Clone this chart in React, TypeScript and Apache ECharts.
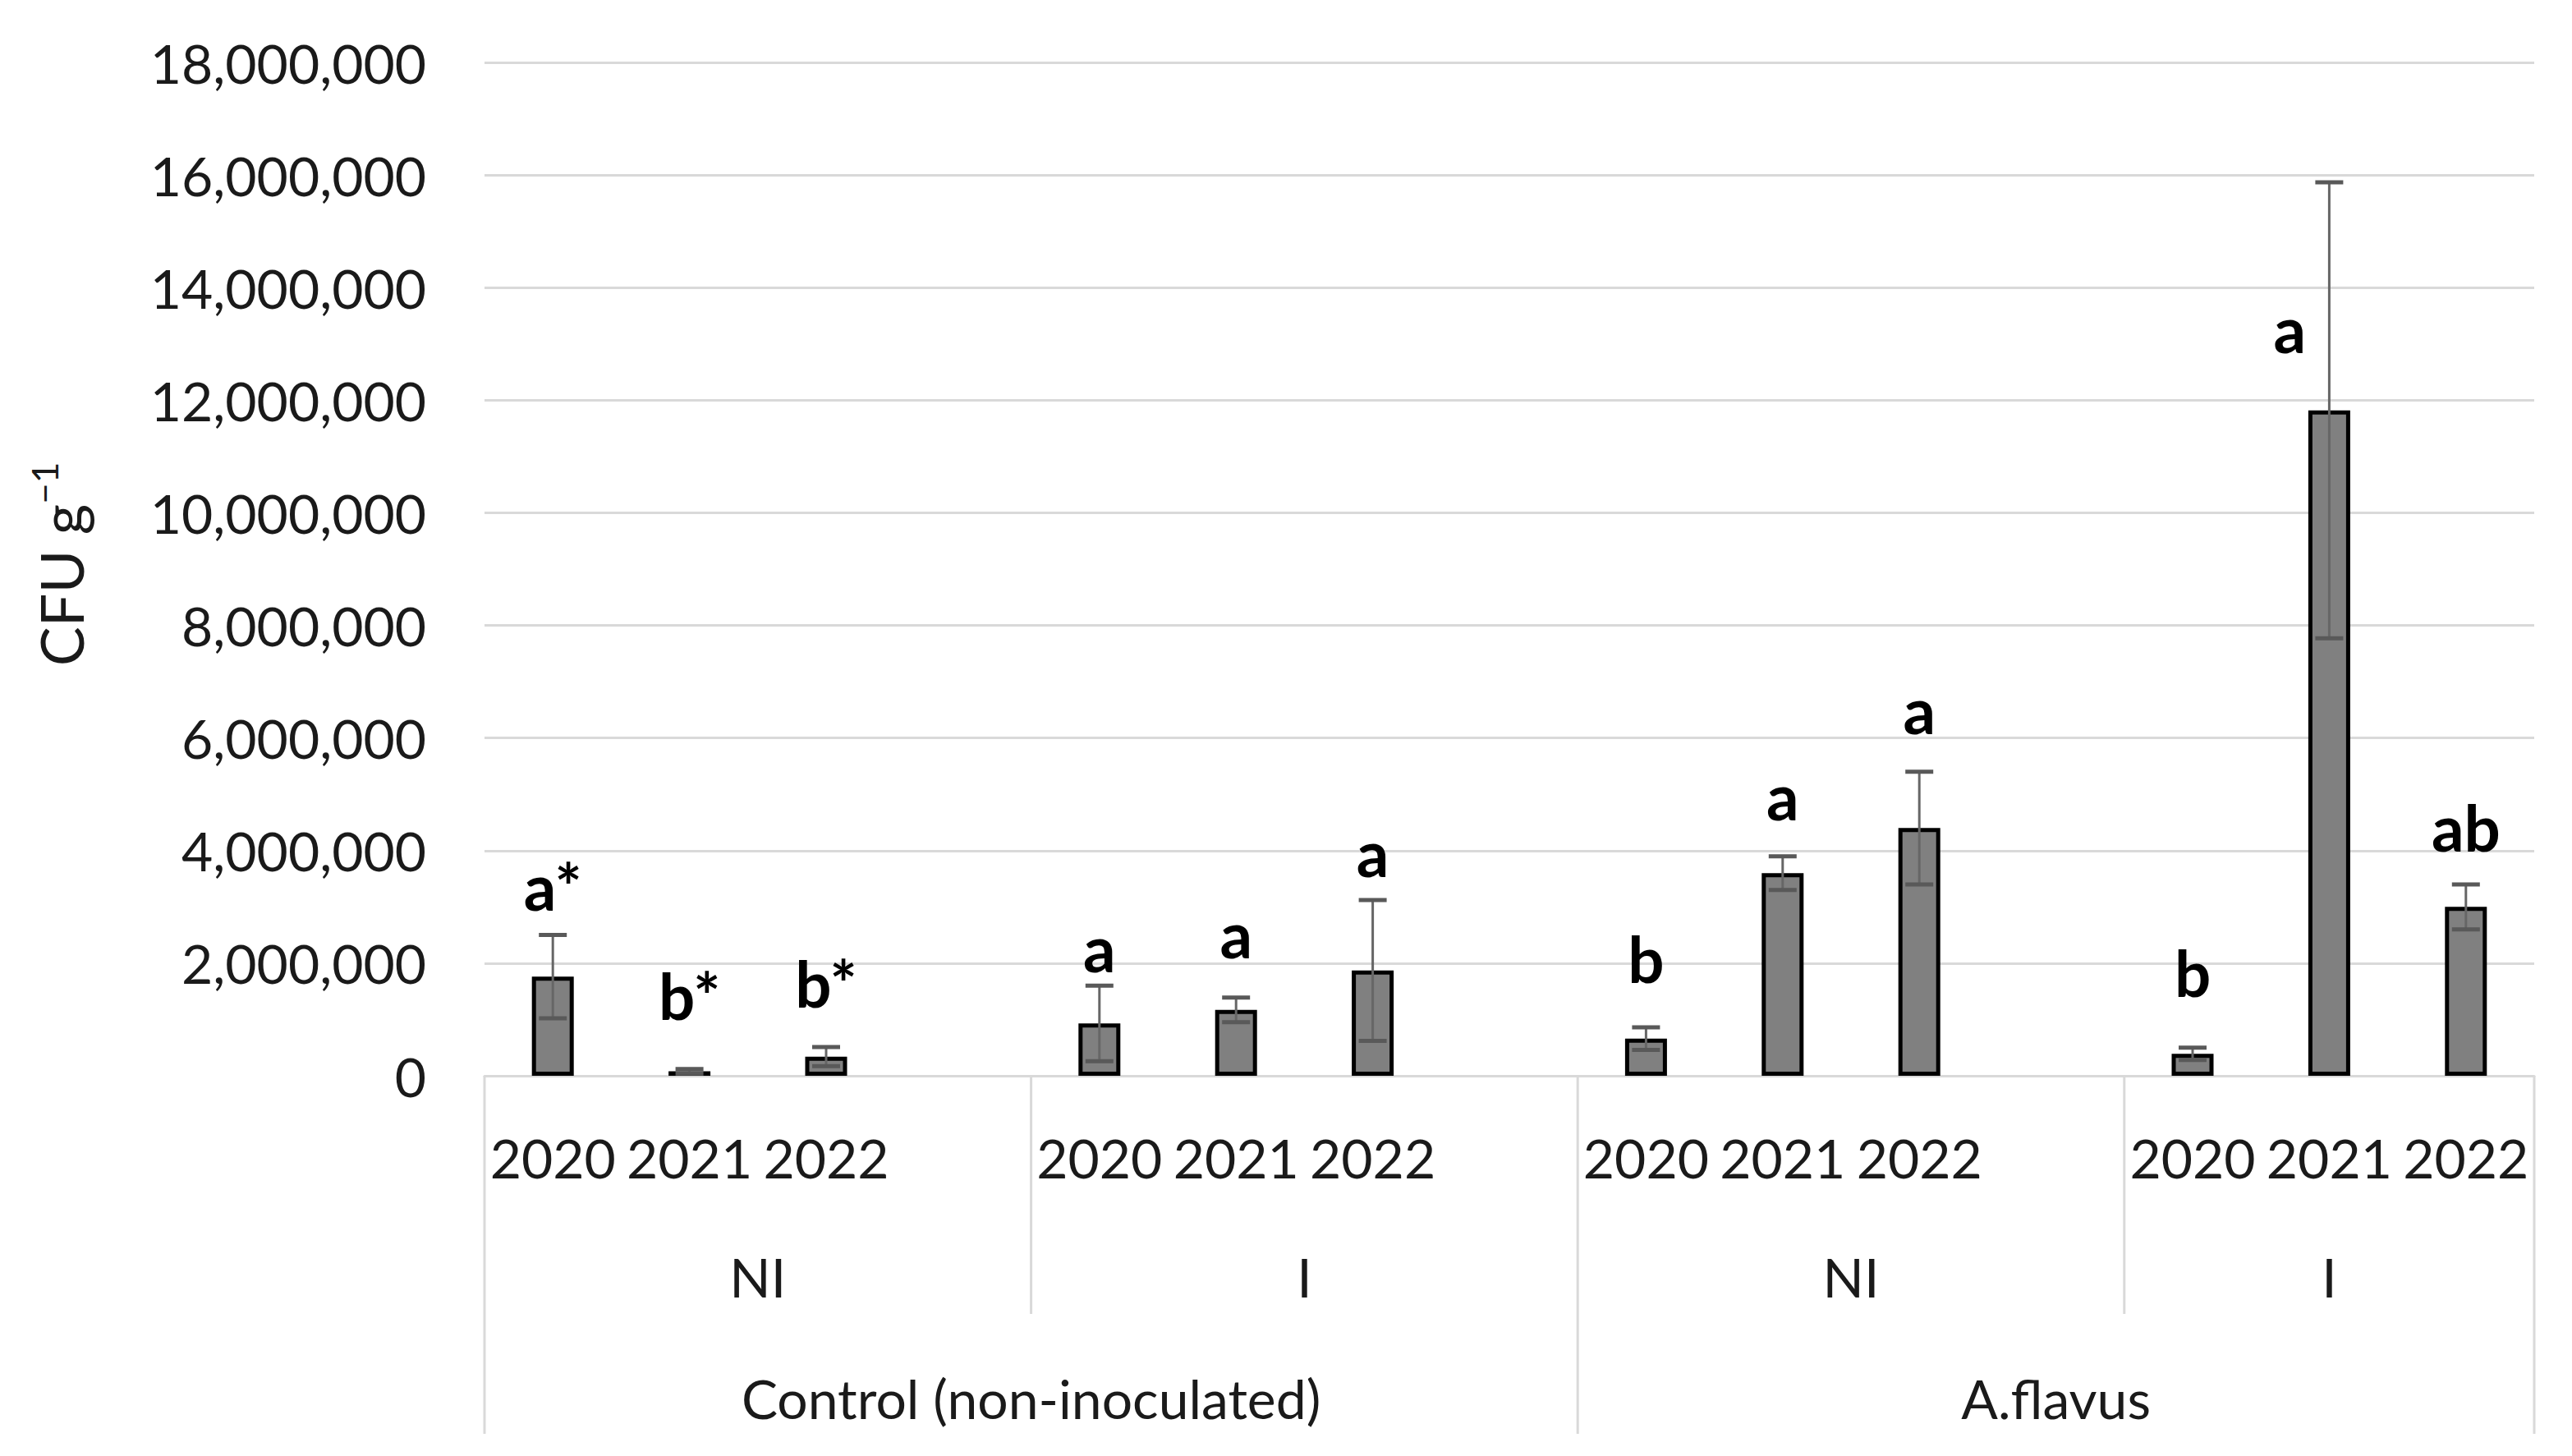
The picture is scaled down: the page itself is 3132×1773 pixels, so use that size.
import React, { useEffect, useRef } from 'react';
import * as echarts from 'echarts';

// ---- data ----
const TREATMENTS = ['Control (non-inoculated)', 'A.flavus'];
const INOCULATION = ['NI', 'I'];
const YEARS = ['2020', '2021', '2022'];
// order: Control-NI, Control-I, A.flavus-NI, A.flavus-I ; each 2020, 2021, 2022
const MEAN_CFU = [1760000, 80000, 340000, 930000, 1170000, 1870000, 660000, 3600000, 4400000, 390000, 11820000, 3000000];
const ERR_CFU = [740000, 40000, 170000, 670000, 220000, 1250000, 200000, 300000, 1000000, 110000, 4050000, 400000];
const LETTERS = ['a*', 'b*', 'b*', 'a', 'a', 'a', 'b', 'a', 'a', 'b', 'a', 'ab'];
const Y_MIN = 0;
const Y_MAX = 18000000;
const Y_STEP = 2000000;
const Y_TITLE = 'CFU g';
const Y_TITLE_SUP = '\u22121';

// ---- layout (pixels) ----
const LABEL_DY = [50, 80, 68, 36, 68, 48, 74, 64, 66, 82, -188, 60];
const LABEL_DX = [0, 0, 0, 0, 0, 0, 0, 0, 0, 0, -48, 0];
const FONT = 'Lato';
const TEXT_COLOR = '#1a1a1a';
const GRID_COLOR = '#d9d9d9';

type Span = { label: string; treat: number; start: number; end: number };

function build() {
  const categories: string[] = [];
  const barData: (number | string)[] = [];
  const errData: number[][] = [];
  const spans: Span[] = [];
  let k = 0;
  TREATMENTS.forEach((t, ti) => {
    INOCULATION.forEach((inoc, ii) => {
      const start = categories.length;
      YEARS.forEach((y) => {
        categories.push(t + '|' + inoc + '|' + y);
        barData.push(MEAN_CFU[k]);
        errData.push([categories.length - 1, MEAN_CFU[k], ERR_CFU[k], k]);
        k++;
      });
      const last = ti === TREATMENTS.length - 1 && ii === INOCULATION.length - 1;
      if (!last) {
        categories.push(t + '|' + inoc + '|gap');
        barData.push('-');
      }
      spans.push({ label: inoc, treat: ti, start, end: categories.length - 1 });
    });
  });
  return { categories, barData, errData, spans };
}

export default function App() {
  const ref = useRef<HTMLDivElement>(null);
  useEffect(() => {
    if (!ref.current) return;
    const chart = echarts.init(ref.current, undefined, { renderer: 'svg' });
    const { categories, barData, errData, spans } = build();

    chart.setOption({
      animation: false,
      backgroundColor: '#ffffff',
      grid: { left: 590, right: 46, top: 76, bottom: 463, containLabel: false },
      xAxis: {
        type: 'category',
        data: categories,
        axisLine: { show: true, lineStyle: { color: GRID_COLOR, width: 3 } },
        axisTick: { show: false },
        axisLabel: {
          interval: 0,
          margin: 66,
          fontFamily: FONT,
          fontSize: 66,
          color: TEXT_COLOR,
          formatter: (v: string) => {
            const y = v.split('|')[2];
            return y === 'gap' ? '' : y;
          },
        },
      },
      yAxis: {
        type: 'value',
        min: Y_MIN,
        max: Y_MAX,
        interval: Y_STEP,
        axisLine: { show: false },
        axisTick: { show: false },
        splitLine: { show: true, lineStyle: { color: GRID_COLOR, width: 3 } },
        axisLabel: {
          margin: 71,
          fontFamily: FONT,
          fontSize: 66,
          color: TEXT_COLOR,
          formatter: (v: number) => v.toLocaleString('en-US'),
        },
      },
      series: [
        {
          type: 'bar',
          data: barData,
          barWidth: 51,
          itemStyle: { color: '#808080', borderColor: '#000000', borderWidth: 5 },
          z: 2,
        },
        {
          type: 'custom',
          data: errData,
          encode: { x: 0, y: 1 },
          z: 3,
          renderItem: (params: any, api: any) => {
            const x = api.value(0);
            const m = api.value(1);
            const e = api.value(2);
            const k = api.value(3);
            const top = api.coord([x, m + e]);
            const bot = api.coord([x, m - e]);
            const cx = top[0];
            const ch = 17;
            return {
              type: 'group',
              children: [
                { type: 'line', shape: { x1: cx, y1: top[1], x2: cx, y2: bot[1] }, style: { stroke: '#666666', lineWidth: 3 } },
                { type: 'line', shape: { x1: cx - ch, y1: top[1], x2: cx + ch, y2: top[1] }, style: { stroke: '#595959', lineWidth: 5 } },
                { type: 'line', shape: { x1: cx - ch, y1: bot[1], x2: cx + ch, y2: bot[1] }, style: { stroke: '#595959', lineWidth: 5 } },
                {
                  type: 'text',
                  x: cx + LABEL_DX[k],
                  y: top[1] - LABEL_DY[k] - 10,
                  style: {
                    text: LETTERS[k],
                    fontFamily: FONT,
                    fontWeight: 'bold',
                    fontSize: 78,
                    fill: '#000000',
                    align: 'center',
                    verticalAlign: 'middle',
                  },
                },
              ],
            };
          },
        },
      ],
    });

    // hierarchical category labels and separators
    const px = (i: number) => chart.convertToPixel({ xAxisIndex: 0 }, i) as number;
    const band = px(1) - px(0);
    const y0 = chart.convertToPixel({ yAxisIndex: 0 }, 0) as number;
    const graphics: any[] = [];
    const sepStyle = { stroke: GRID_COLOR, lineWidth: 3 };
    spans.forEach((s, i) => {
      const left = px(s.start) - band / 2;
      const right = px(s.end) + band / 2;
      const firstOfTreat = i === 0 || spans[i - 1].treat !== s.treat;
      graphics.push({
        type: 'line',
        shape: { x1: left, y1: y0, x2: left, y2: y0 + (firstOfTreat ? 436 : 290) },
        style: sepStyle,
      });
      if (i === spans.length - 1) {
        graphics.push({ type: 'line', shape: { x1: right, y1: y0, x2: right, y2: y0 + 436 }, style: sepStyle });
      }
      graphics.push({
        type: 'text',
        x: (left + right) / 2,
        y: y0 + 244,
        style: { text: s.label, fontFamily: FONT, fontSize: 66, fill: TEXT_COLOR, align: 'center', verticalAlign: 'middle' },
      });
    });
    TREATMENTS.forEach((t, ti) => {
      const ss = spans.filter((s) => s.treat === ti);
      const left = px(ss[0].start) - band / 2;
      const right = px(ss[ss.length - 1].end) + band / 2;
      graphics.push({
        type: 'text',
        x: (left + right) / 2,
        y: y0 + 392,
        style: { text: t, fontFamily: FONT, fontSize: 66, fill: TEXT_COLOR, align: 'center', verticalAlign: 'middle' },
      });
    });
    const yTop = chart.convertToPixel({ yAxisIndex: 0 }, Y_MAX) as number;
    graphics.push({
      type: 'text',
      x: 74,
      y: (y0 + yTop) / 2 - 6,
      rotation: Math.PI / 2,
      style: {
        text: '{m|' + Y_TITLE + '}{s|' + Y_TITLE_SUP + '}',
        align: 'center',
        verticalAlign: 'middle',
        rich: {
          m: { fontFamily: FONT, fontSize: 72, fill: TEXT_COLOR, lineHeight: 84 },
          s: { fontFamily: FONT, fontSize: 44, fill: TEXT_COLOR, verticalAlign: 'top' },
        },
      },
    });
    chart.setOption({ graphic: graphics });

    return () => chart.dispose();
  }, []);

  return (
    <div
      ref={ref}
      style={{ position: 'fixed', left: 0, top: 0, width: '3132px', height: '1773px', background: '#fff' }}
    />
  );
}
